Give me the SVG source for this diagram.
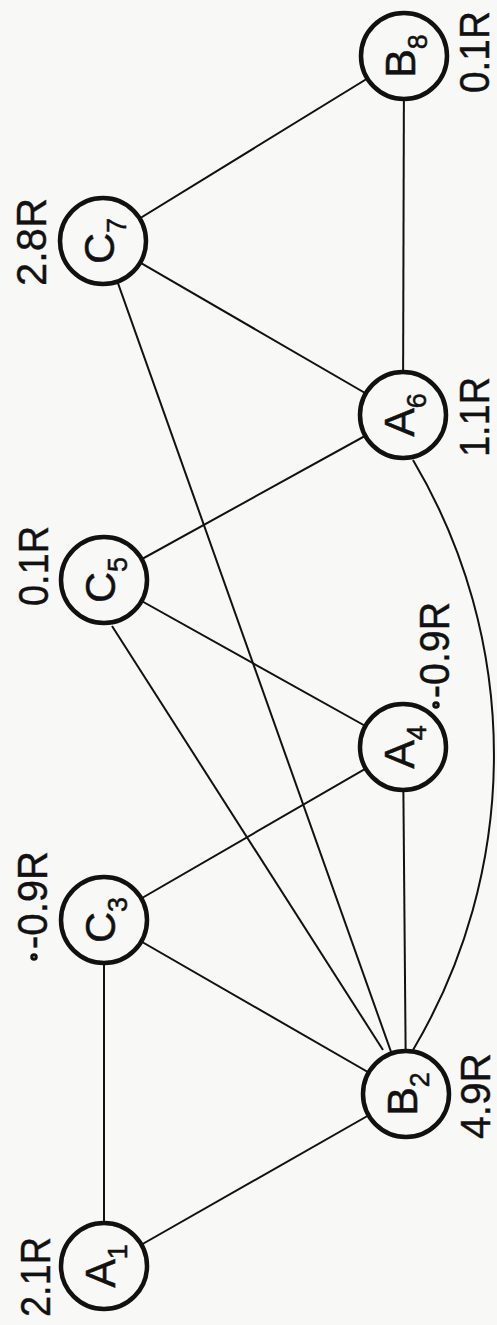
<svg xmlns="http://www.w3.org/2000/svg" width="497" height="1325" viewBox="0 0 497 1325">
  <style>
    .edge { stroke: #111; stroke-width: 2; fill: none; }
    .node circle { fill: #f8f8f6; stroke: #111; stroke-width: 4.5; }
    .name { font-family: "Liberation Sans", Arial, sans-serif; font-size: 43px; fill: #111; stroke: #111; stroke-width: 0.5; text-anchor: middle; }
    .sub { font-size: 27px; }
    .val { font-family: "Liberation Sans", Arial, sans-serif; font-size: 42px; fill: #111; stroke: #111; stroke-width: 0.4; text-anchor: middle; }
    .speck { fill: #111; }
  </style>
  <rect width="497" height="1325" fill="#f8f8f6"/>

  <!-- connectors -->
  <g id="edges">
    <line class="edge" x1="104" y1="1266" x2="104" y2="920"/>
    <line class="edge" x1="104" y1="1266" x2="406" y2="1094"/>
    <line class="edge" x1="104" y1="920" x2="406" y2="1094"/>
    <line class="edge" x1="104" y1="920" x2="403" y2="747"/>
    <line class="edge" x1="406" y1="1094" x2="403" y2="747"/>
    <line class="edge" x1="112" y1="626" x2="383" y2="1050"/>
    <line class="edge" x1="103" y1="241" x2="406" y2="1094"/>
    <line class="edge" x1="104" y1="580" x2="403" y2="747"/>
    <line class="edge" x1="104" y1="580" x2="403" y2="415"/>
    <line class="edge" x1="103" y1="241" x2="403" y2="415"/>
    <line class="edge" x1="103" y1="241" x2="404" y2="56"/>
    <line class="edge" x1="403" y1="415" x2="404" y2="56"/>
    <path class="edge" d="M413,460 A578,578 0 0 1 413,1050"/>
  </g>

  <g id="nodeA1" class="node">
    <circle cx="104" cy="1266" r="43"/>
    <text class="name" transform="translate(104,1266) rotate(-90)" y="11">A<tspan class="sub" dy="12">1</tspan></text>
    <text class="val" transform="translate(50,1277) rotate(-90)" textLength="80" lengthAdjust="spacingAndGlyphs">2.1R</text>
  </g>

  <g id="nodeB2" class="node">
    <circle cx="406" cy="1094" r="43"/>
    <text class="name" transform="translate(406,1094) rotate(-90)" y="11">B<tspan class="sub" dy="12">2</tspan></text>
    <text class="val" transform="translate(490,1096) rotate(-90)" textLength="86" lengthAdjust="spacingAndGlyphs">4.9R</text>
  </g>

  <g id="nodeC3" class="node">
    <circle cx="104" cy="920" r="43"/>
    <text class="name" transform="translate(104,920) rotate(-90)" y="11">C<tspan class="sub" dy="12">3</tspan></text>
    <text class="val" transform="translate(47,900) rotate(-90)" textLength="98" lengthAdjust="spacingAndGlyphs">-0.9R</text>
    <circle class="speck" cx="34" cy="957" r="1.5"/>
  </g>

  <g id="nodeA4" class="node">
    <circle cx="403" cy="747" r="43"/>
    <text class="name" transform="translate(403,747) rotate(-90)" y="11">A<tspan class="sub" dy="12">4</tspan></text>
    <text class="val" transform="translate(449,650) rotate(-90)" textLength="96" lengthAdjust="spacingAndGlyphs">-0.9R</text>
    <circle class="speck" cx="436" cy="705" r="1.5"/>
  </g>

  <g id="nodeC5" class="node">
    <circle cx="104" cy="580" r="43"/>
    <text class="name" transform="translate(104,580) rotate(-90)" y="11">C<tspan class="sub" dy="12">5</tspan></text>
    <text class="val" transform="translate(48,566) rotate(-90)" textLength="80" lengthAdjust="spacingAndGlyphs">0.1R</text>
  </g>

  <g id="nodeA6" class="node">
    <circle cx="403" cy="415" r="43"/>
    <text class="name" transform="translate(403,415) rotate(-90)" y="11">A<tspan class="sub" dy="12">6</tspan></text>
    <text class="val" transform="translate(489,417) rotate(-90)" textLength="80" lengthAdjust="spacingAndGlyphs">1.1R</text>
  </g>

  <g id="nodeC7" class="node">
    <circle cx="103" cy="241" r="43"/>
    <text class="name" transform="translate(103,241) rotate(-90)" y="11">C<tspan class="sub" dy="12">7</tspan></text>
    <text class="val" transform="translate(46,242) rotate(-90)" textLength="88" lengthAdjust="spacingAndGlyphs">2.8R</text>
  </g>

  <g id="nodeB8" class="node">
    <circle cx="404" cy="56" r="43"/>
    <text class="name" transform="translate(404,56) rotate(-90)" y="11">B<tspan class="sub" dy="12">8</tspan></text>
    <text class="val" transform="translate(489,52) rotate(-90)" textLength="82" lengthAdjust="spacingAndGlyphs">0.1R</text>
  </g>
</svg>
